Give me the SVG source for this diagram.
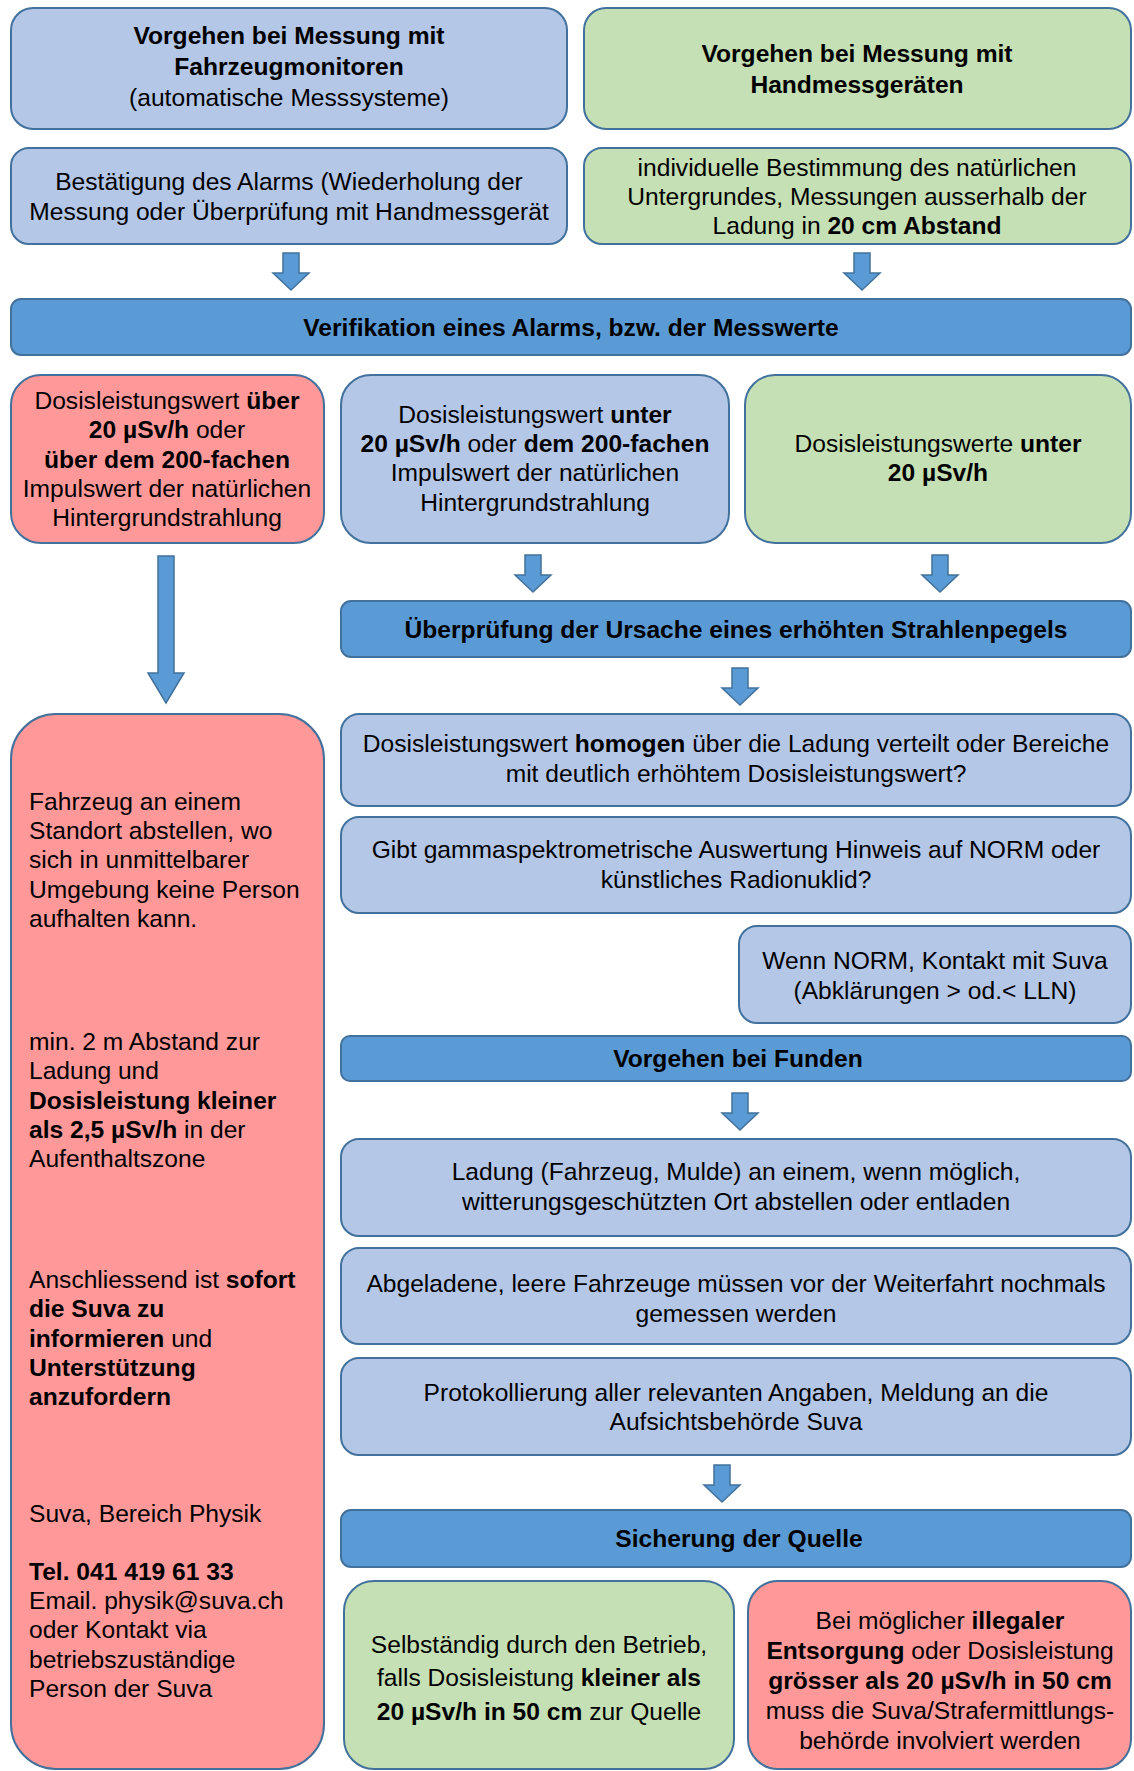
<svg xmlns="http://www.w3.org/2000/svg" width="1134" height="1771" viewBox="0 0 1134 1771">
<style>
text{font-family:"Liberation Sans",Arial,sans-serif;font-size:24.6px;fill:#000}
.c{text-anchor:middle}
.b{font-weight:bold}
.lb{fill:#B4C7E7;stroke:#41719C;stroke-width:2}
.gr{fill:#C5E0B4;stroke:#41719C;stroke-width:2}
.rd{fill:#FF9999;stroke:#41719C;stroke-width:2}
.bar{fill:#5B9BD5;stroke:#41719C;stroke-width:2}
.arr{fill:#5B9BD5;stroke:#41719C;stroke-width:1.5}
</style>
<defs>
<path id="ar" d="M-8,0 H8 V20 H18 L0,37 L-18,20 H-8 Z"/>
</defs>
<rect width="1134" height="1771" fill="#fff"/>

<g id="n1">
<rect class="lb" x="11" y="8" width="556" height="121" rx="22"/>
<text class="c b" x="289" y="44">Vorgehen bei Messung mit</text>
<text class="c b" x="289" y="75">Fahrzeugmonitoren</text>
<text class="c" x="289" y="106">(automatische Messsysteme)</text>
</g>
<g id="n2">
<rect class="gr" x="584" y="8" width="547" height="121" rx="22"/>
<text class="c b" x="857" y="62">Vorgehen bei Messung mit</text>
<text class="c b" x="857" y="93">Handmessgeräten</text>
</g>
<g id="n3">
<rect class="lb" x="11" y="148" width="556" height="96" rx="18"/>
<text class="c" x="289" y="190">Bestätigung des Alarms (Wiederholung der</text>
<text class="c" x="289" y="220">Messung oder Überprüfung mit Handmessgerät</text>
</g>
<g id="n4">
<rect class="gr" x="584" y="148" width="547" height="96" rx="18"/>
<text class="c" x="857" y="176">individuelle Bestimmung des natürlichen</text>
<text class="c" x="857" y="205">Untergrundes, Messungen ausserhalb der</text>
<text class="c" x="857" y="234">Ladung in <tspan class="b">20 cm Abstand</tspan></text>
</g>
<g id="n5">
<rect class="bar" x="11" y="299" width="1120" height="56" rx="10"/>
<text class="c b" x="571" y="336">Verifikation eines Alarms, bzw. der Messwerte</text>
</g>
<g id="n6">
<rect class="rd" x="11" y="375" width="313" height="168" rx="30"/>
<text class="c" x="167" y="409">Dosisleistungswert <tspan class="b">über</tspan></text>
<text class="c" x="167" y="438"><tspan class="b">20 µSv/h</tspan> oder</text>
<text class="c b" x="167" y="468">über dem 200-fachen</text>
<text class="c" x="167" y="497">Impulswert der natürlichen</text>
<text class="c" x="167" y="526">Hintergrundstrahlung</text>
</g>
<g id="n7">
<rect class="lb" x="341" y="375" width="388" height="168" rx="30"/>
<text class="c" x="535" y="423">Dosisleistungswert <tspan class="b">unter</tspan></text>
<text class="c" x="535" y="452"><tspan class="b">20 µSv/h</tspan> oder <tspan class="b">dem 200-fachen</tspan></text>
<text class="c" x="535" y="481">Impulswert der natürlichen</text>
<text class="c" x="535" y="511">Hintergrundstrahlung</text>
</g>
<g id="n8">
<rect class="gr" x="745" y="375" width="386" height="168" rx="30"/>
<text class="c" x="938" y="452">Dosisleistungswerte <tspan class="b">unter</tspan></text>
<text class="c b" x="938" y="481">20 µSv/h</text>
</g>
<g id="n9">
<rect class="bar" x="341" y="601" width="790" height="56" rx="10"/>
<text class="c b" x="736" y="638">Überprüfung der Ursache eines erhöhten Strahlenpegels</text>
</g>
<g id="n10">
<rect class="rd" x="11" y="714" width="313" height="1055" rx="45"/>
<text x="29" y="810">Fahrzeug an einem</text>
<text x="29" y="839">Standort abstellen, wo</text>
<text x="29" y="868">sich in unmittelbarer</text>
<text x="29" y="898">Umgebung keine Person</text>
<text x="29" y="927">aufhalten kann.</text>
<text x="29" y="1050">min. 2 m Abstand zur</text>
<text x="29" y="1079">Ladung und</text>
<text x="29" y="1109" class="b">Dosisleistung kleiner</text>
<text x="29" y="1138"><tspan class="b">als 2,5 µSv/h</tspan> in der</text>
<text x="29" y="1167">Aufenthaltszone</text>
<text x="29" y="1288">Anschliessend ist <tspan class="b">sofort</tspan></text>
<text x="29" y="1317" class="b">die Suva zu</text>
<text x="29" y="1347"><tspan class="b">informieren</tspan> und</text>
<text x="29" y="1376" class="b">Unterstützung</text>
<text x="29" y="1405" class="b">anzufordern</text>
<text x="29" y="1522">Suva, Bereich Physik</text>
<text x="29" y="1580" class="b">Tel. 041 419 61 33</text>
<text x="29" y="1609">Email. physik@suva.ch</text>
<text x="29" y="1638">oder Kontakt via</text>
<text x="29" y="1668">betriebszuständige</text>
<text x="29" y="1697">Person der Suva</text>
</g>
<g id="n11">
<rect class="lb" x="341" y="714" width="790" height="92" rx="18"/>
<text class="c" x="736" y="752">Dosisleistungswert <tspan class="b">homogen</tspan> über die Ladung verteilt oder Bereiche</text>
<text class="c" x="736" y="782">mit deutlich erhöhtem Dosisleistungswert?</text>
</g>
<g id="n12">
<rect class="lb" x="341" y="817" width="790" height="96" rx="18"/>
<text class="c" x="736" y="858">Gibt gammaspektrometrische Auswertung Hinweis auf NORM oder</text>
<text class="c" x="736" y="888">künstliches Radionuklid?</text>
</g>
<g id="n13">
<rect class="lb" x="739" y="926" width="392" height="97" rx="18"/>
<text class="c" x="935" y="969">Wenn NORM, Kontakt mit Suva</text>
<text class="c" x="935" y="999">(Abklärungen &gt; od.&lt; LLN)</text>
</g>
<g id="n14">
<rect class="bar" x="341" y="1036" width="790" height="45" rx="9"/>
<text class="c b" x="738" y="1067">Vorgehen bei Funden</text>
</g>
<g id="n15">
<rect class="lb" x="341" y="1139" width="790" height="97" rx="18"/>
<text class="c" x="736" y="1180">Ladung (Fahrzeug, Mulde) an einem, wenn möglich,</text>
<text class="c" x="736" y="1210">witterungsgeschützten Ort abstellen oder entladen</text>
</g>
<g id="n16">
<rect class="lb" x="341" y="1248" width="790" height="96" rx="18"/>
<text class="c" x="736" y="1292">Abgeladene, leere Fahrzeuge müssen vor der Weiterfahrt nochmals</text>
<text class="c" x="736" y="1322">gemessen werden</text>
</g>
<g id="n17">
<rect class="lb" x="341" y="1358" width="790" height="97" rx="18"/>
<text class="c" x="736" y="1401">Protokollierung aller relevanten Angaben, Meldung an die</text>
<text class="c" x="736" y="1430">Aufsichtsbehörde Suva</text>
</g>
<g id="n18">
<rect class="bar" x="341" y="1510" width="790" height="57" rx="10"/>
<text class="c b" x="739" y="1547">Sicherung der Quelle</text>
</g>
<g id="n19">
<rect class="gr" x="344" y="1581" width="390" height="188" rx="30"/>
<text class="c" x="539" y="1653">Selbständig durch den Betrieb,</text>
<text class="c" x="539" y="1686">falls Dosisleistung <tspan class="b">kleiner als</tspan></text>
<text class="c" x="539" y="1720"><tspan class="b">20 µSv/h in 50 cm</tspan> zur Quelle</text>
</g>
<g id="n20">
<rect class="rd" x="748" y="1581" width="383" height="188" rx="30"/>
<text class="c" x="940" y="1629">Bei möglicher <tspan class="b">illegaler</tspan></text>
<text class="c" x="940" y="1659"><tspan class="b">Entsorgung</tspan> oder Dosisleistung</text>
<text class="c b" x="940" y="1689">grösser als 20 µSv/h in 50 cm</text>
<text class="c" x="940" y="1719">muss die Suva/Strafermittlungs-</text>
<text class="c" x="940" y="1749">behörde involviert werden</text>
</g>

<g id="connectors">
<use href="#ar" class="arr" transform="translate(291,253)"/>
<use href="#ar" class="arr" transform="translate(862,253)"/>
<path class="arr" d="M158,556 H174 V673 H184 L166,703 L148,673 H158 Z"/>
<use href="#ar" class="arr" transform="translate(533,555)"/>
<use href="#ar" class="arr" transform="translate(940,555)"/>
<use href="#ar" class="arr" transform="translate(740,668)"/>
<use href="#ar" class="arr" transform="translate(740,1093)"/>
<use href="#ar" class="arr" transform="translate(722,1465)"/>
</g>
</svg>
